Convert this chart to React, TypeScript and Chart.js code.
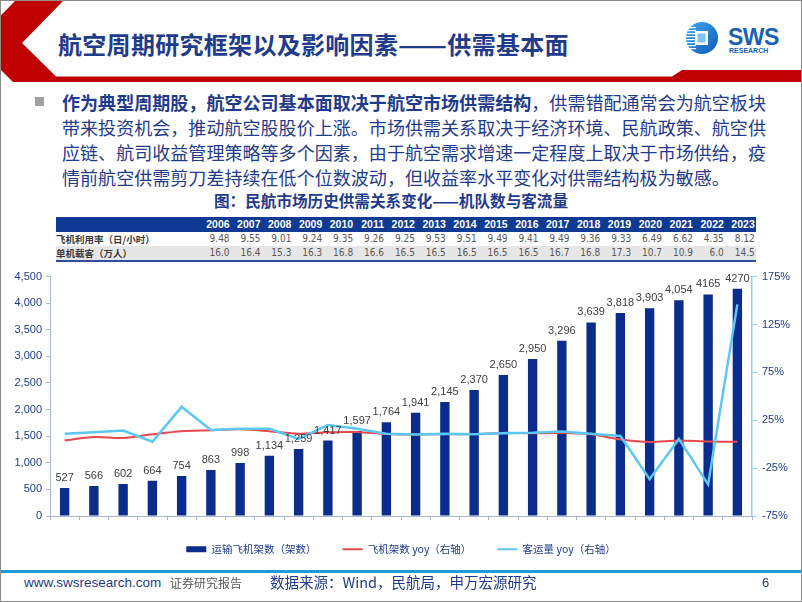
import React, { useEffect, useRef } from 'react';
import { Chart, registerables } from 'chart.js';

Chart.register(...registerables);
Chart.defaults.font.family = "'Liberation Sans', Arial, sans-serif";

// ---------- data ----------
const years = ['2000', '2001', '2002', '2003', '2004', '2005', '2006', '2007', '2008', '2009', '2010', '2011', '2012', '2013', '2014', '2015', '2016', '2017', '2018', '2019', '2020', '2021', '2022', '2023'];
const fleetCount = [527, 566, 602, 664, 754, 863, 998, 1134, 1259, 1417, 1597, 1764, 1941, 2145, 2370, 2650, 2950, 3296, 3639, 3818, 3903, 4054, 4165, 4270];
const fleetCountLabels = ['527', '566', '602', '664', '754', '863', '998', '1,134', '1,259', '1,417', '1,597', '1,764', '1,941', '2,145', '2,370', '2,650', '2,950', '3,296', '3,639', '3,818', '3,903', '4,054', '4165', '4270'];
const fleetYoy = [4.0, 7.4, 6.4, 10.3, 13.6, 14.5, 15.6, 13.6, 11.0, 12.5, 12.7, 10.5, 10.0, 10.5, 10.5, 11.8, 11.3, 11.7, 10.4, 4.9, 2.2, 3.9, 2.7, 2.5];
const paxYoy = [10.8, 12.5, 14.2, 2.5, 39.0, 14.9, 16.0, 16.0, 5.5, 20.0, 16.0, 11.0, 10.0, 10.8, 10.5, 11.5, 12.0, 13.3, 11.0, 8.5, -36.5, 5.5, -42.0, 146.0];
const seriesNames = ['运输飞机架数（架数）', '飞机架数 yoy（右轴）', '客运量 yoy（右轴）'];
const leftAxis = { min: 0, max: 4500, step: 500 };
const rightAxis = { min: -75, max: 175, step: 50 };

const tableYears = ['2006', '2007', '2008', '2009', '2010', '2011', '2012', '2013', '2014', '2015', '2016', '2017', '2018', '2019', '2020', '2021', '2022', '2023'];
const utilization = ['9.48', '9.55', '9.01', '9.24', '9.35', '9.26', '9.25', '9.53', '9.51', '9.49', '9.41', '9.49', '9.36', '9.33', '6.49', '6.62', '4.35', '8.12'];
const paxPerPlane = ['16.0', '16.4', '15.3', '16.3', '16.8', '16.6', '16.5', '16.5', '16.5', '16.5', '16.5', '16.7', '16.8', '17.3', '10.7', '10.9', '6.0', '14.5'];
const tableRowNames = ['飞机利用率（日/小时）', '单机载客（万人）'];

const titleParts = ['航空周期研究框架以及影响因素', '——', '供需基本面'];
const bulletLines = [
  ['作为典型周期股，航空公司基本面取决于航空市场供需结构', '，供需错配通常会为航空板块'],
  ['', '带来投资机会，推动航空股股价上涨。市场供需关系取决于经济环境、民航政策、航空供'],
  ['', '应链、航司收益管理策略等多个因素，由于航空需求增速一定程度上取决于市场供给，疫'],
  ['', '情前航空供需剪刀差持续在低个位数波动，但收益率水平变化对供需结构极为敏感。'],
];
const chartTitle = '图：民航市场历史供需关系变化——机队数与客流量';

// ---------- colours ----------
const NAVY = '#0A2C8C';
const RED = '#E8474D';
const CYAN = '#5BC8F3';
const TEXT_BLUE = '#1F3B8C';
const CJK = "'Noto Sans CJK SC', 'Noto Sans', sans-serif";

const barLabelPlugin = {
  id: 'barLabels',
  afterDatasetsDraw(chart: any) {
    const meta = chart.getDatasetMeta(0);
    const ctx = chart.ctx;
    ctx.save();
    ctx.font = "11px 'Liberation Sans', Arial, sans-serif";
    ctx.fillStyle = '#404040';
    ctx.textAlign = 'center';
    ctx.textBaseline = 'alphabetic';
    meta.data.forEach((bar: any, i: number) => {
      ctx.fillText(fleetCountLabels[i], bar.x, bar.y - 7);
    });
    ctx.restore();
  },
};

const legendHeightPlugin = {
  id: 'legendHeight',
  beforeInit(chart: any) {
    const legend = chart.legend;
    if (!legend) return;
    const origFit = legend.fit;
    legend.fit = function () {
      origFit.call(this);
      this.height = 57;
    };
  },
};

export default function App() {
  const canvasRef = useRef<HTMLCanvasElement>(null);

  useEffect(() => {
    document.body.style.margin = '0';
    const canvas = canvasRef.current;
    if (!canvas) return;
    const chart = new Chart(canvas, {
      type: 'bar',
      data: {
        labels: years,
        datasets: [
          {
            type: 'bar',
            label: seriesNames[0],
            data: fleetCount,
            backgroundColor: NAVY,
            yAxisID: 'y',
            order: 3,
            barPercentage: 0.32,
            categoryPercentage: 1,
          } as any,
          {
            type: 'line',
            label: seriesNames[1],
            data: fleetYoy,
            borderColor: RED,
            backgroundColor: RED,
            borderWidth: 2,
            pointRadius: 0,
            tension: 0.3,
            yAxisID: 'y1',
            order: 2,
          } as any,
          {
            type: 'line',
            label: seriesNames[2],
            data: paxYoy,
            borderColor: CYAN,
            backgroundColor: CYAN,
            borderWidth: 2.5,
            pointRadius: 0,
            tension: 0,
            yAxisID: 'y1',
            order: 1,
          } as any,
        ],
      },
      options: {
        responsive: false,
        animation: false,
        devicePixelRatio: 1,
        layout: { padding: { top: 10, left: 0, right: 0, bottom: 0 } },
        scales: {
          x: {
            offset: true,
            grid: { drawOnChartArea: false, drawTicks: true, tickLength: 4, color: '#A9B7D6', offset: true },
            border: { color: '#A9B7D6', width: 1 },
            ticks: { font: { size: 9 }, color: TEXT_BLUE, padding: 2, maxRotation: 0, autoSkip: false },
            afterFit: (s: any) => { s.height = 2; },
          },
          y: {
            position: 'left',
            min: leftAxis.min,
            max: leftAxis.max,
            ticks: {
              stepSize: leftAxis.step,
              callback: (v: any) => Number(v).toLocaleString('en-US'),
              font: { size: 11 },
              color: TEXT_BLUE,
              padding: 4,
            },
            grid: { drawOnChartArea: false, drawTicks: true, tickLength: 4, color: '#A9B7D6' },
            border: { color: '#A9B7D6', width: 1 },
            afterFit: (s: any) => { s.width = 50; },
          },
          y1: {
            position: 'right',
            min: rightAxis.min,
            max: rightAxis.max,
            ticks: {
              stepSize: rightAxis.step,
              callback: (v: any) => `${v}%`,
              font: { size: 11 },
              color: TEXT_BLUE,
              padding: 5,
            },
            grid: { drawOnChartArea: false, drawTicks: true, tickLength: 5, color: '#8ED3F4' },
            border: { color: '#8ED3F4', width: 1.5 },
            afterFit: (s: any) => { s.width = 50; },
          },
        } as any,
        plugins: {
          legend: {
            position: 'bottom',
            labels: {
              usePointStyle: true,
              pointStyleWidth: 20,
              boxHeight: 6,
              padding: 26,
              font: { size: 10.5, family: CJK },
              color: TEXT_BLUE,
              generateLabels: (c: any) => {
                const items = Chart.defaults.plugins.legend.labels.generateLabels(c);
                items.forEach((it: any) => {
                  const ds: any = c.data.datasets[it.datasetIndex];
                  if (ds.type === 'line') {
                    it.pointStyle = 'line';
                    it.strokeStyle = ds.borderColor;
                    it.lineWidth = 2;
                  } else {
                    it.pointStyle = 'rect';
                    it.fillStyle = ds.backgroundColor;
                    it.lineWidth = 0;
                  }
                });
                return items;
              },
              sort: (a: any, b: any) => a.datasetIndex - b.datasetIndex,
            },
          } as any,
          tooltip: { enabled: false },
        },
      },
      plugins: [legendHeightPlugin, barLabelPlugin],
    });
    return () => chart.destroy();
  }, []);

  const firstCol = 142.7;
  const colW = 30.9;

  const cell = (txt: string, key: number, style: any) => (
    <div key={key} style={{ width: colW, textAlign: 'right', flex: 'none', ...style }}>{txt}</div>
  );

  return (
    <div style={{ position: 'fixed', left: 0, top: 0, width: 802, height: 602, background: '#fff', overflow: 'hidden', fontFamily: CJK }}>
      {/* header decoration */}
      <svg width={802} height={90} style={{ position: 'absolute', left: 0, top: 0 }}>
        <polygon points="15,1 63,1 22,43 56,76.5 672,76.5 682,70 802,70 802,82 13,82 -26,43" fill="#C00000" />
        <defs>
          <linearGradient id="lg" x1="0" y1="0" x2="1" y2="1">
            <stop offset="0" stopColor="#3FA9F5" />
            <stop offset="1" stopColor="#0D5BB5" />
          </linearGradient>
        </defs>
        <circle cx={702} cy={38} r={16} fill="url(#lg)" />
        {[27, 30, 33, 36, 39, 42, 45, 48].map((y) => (
          <rect key={y} x={686} y={y} width={10} height={1.2} fill="#ffffff" />
        ))}
        <rect x={695} y={31} width={13} height={14} fill="#ffffff" />
        <rect x={697.5} y={33.5} width={8} height={9} fill="#7CC4F7" />
      </svg>
      <div style={{ position: 'absolute', left: 728, top: 24, fontFamily: "'Liberation Sans', Arial, sans-serif", fontWeight: 700, fontSize: 23, lineHeight: '26px', color: '#1A5FB4', letterSpacing: -0.5 }}>SWS</div>
      <div style={{ position: 'absolute', left: 729, top: 47, fontFamily: "'Liberation Sans', Arial, sans-serif", fontWeight: 700, fontSize: 7, lineHeight: '8px', color: '#1A5FB4' }}>RESEARCH</div>

      {/* title */}
      <div style={{ position: 'absolute', left: 58, top: 29, fontSize: 24, lineHeight: '30px', fontWeight: 700, color: TEXT_BLUE, letterSpacing: 0.3, whiteSpace: 'nowrap' }}>
        {titleParts[0]}
        <span style={{ display: 'inline-block', transform: 'scaleX(1.2)', transformOrigin: 'left center', marginRight: 8 }}>{titleParts[1]}</span>
        {titleParts[2]}
      </div>

      {/* bullet */}
      <div style={{ position: 'absolute', left: 35, top: 97, width: 9, height: 9, background: '#A0A0A0' }} />
      <div style={{ position: 'absolute', left: 62, top: 89.5, fontSize: 18, lineHeight: '25px', color: TEXT_BLUE, whiteSpace: 'nowrap', letterSpacing: 0.05 }}>
        {bulletLines.map((ln, i) => (
          <div key={i}>
            {ln[0] ? <span style={{ fontWeight: 700 }}>{ln[0]}</span> : null}
            <span>{ln[1]}</span>
          </div>
        ))}
      </div>

      {/* chart title */}
      <div style={{ position: 'absolute', left: 214, top: 190, fontSize: 15.6, lineHeight: '20px', fontWeight: 700, color: TEXT_BLUE, whiteSpace: 'nowrap' }}>{chartTitle}</div>

      {/* table */}
      <div style={{ position: 'absolute', left: 56, top: 217, width: 700 }}>
        <div style={{ display: 'flex', height: 15, background: '#0E3A94', color: '#fff', fontFamily: "'Liberation Sans', Arial, sans-serif", fontWeight: 700, fontSize: 10.5, lineHeight: '15px' }}>
          <div style={{ width: firstCol, flex: 'none' }} />
          {tableYears.map((y, i) => cell(y, i, {}))}
        </div>
        {[utilization, paxPerPlane].map((row, r) => (
          <div key={r} style={{ display: 'flex', height: 14, lineHeight: '14px', background: r === 1 ? '#E7E6E6' : '#fff' }}>
            <div style={{ width: firstCol, flex: 'none', fontFamily: CJK, fontWeight: 700, fontSize: 9.5, color: '#3A3A3A', whiteSpace: 'nowrap' }}>{tableRowNames[r]}</div>
            {row.map((v, i) => cell(v, i, { fontFamily: "'Liberation Sans Narrow', 'DejaVu Sans Condensed', Arial, sans-serif", fontSize: 10, color: '#595959' }))}
          </div>
        ))}
        <div style={{ height: 2, background: '#2F4D9C' }} />
      </div>

      {/* chart */}
      <canvas ref={canvasRef} width={802} height={310} style={{ position: 'absolute', left: 0, top: 265, width: 802, height: 310 }} />

      {/* footer */}
      <div style={{ position: 'absolute', left: 0, top: 570, width: 802, height: 3, background: '#1F9BD7' }} />
      <div style={{ position: 'absolute', left: 24, top: 575, fontFamily: "'Liberation Sans', Arial, sans-serif", fontSize: 13.5, lineHeight: '16px', color: TEXT_BLUE }}>www.swsresearch.com</div>
      <div style={{ position: 'absolute', left: 170, top: 575, fontSize: 12, lineHeight: '16px', color: '#595959' }}>证券研究报告</div>
      <div style={{ position: 'absolute', left: 270, top: 573, fontSize: 14.5, lineHeight: '18px', color: TEXT_BLUE, whiteSpace: 'nowrap' }}>数据来源：Wind，民航局，申万宏源研究</div>
      <div style={{ position: 'absolute', left: 762, top: 575, fontFamily: "'Liberation Sans', Arial, sans-serif", fontSize: 13, lineHeight: '16px', color: TEXT_BLUE }}>6</div>

      {/* slide border */}
      <div style={{ position: 'absolute', left: 0, top: 0, width: 802, height: 602, boxSizing: 'border-box', border: '1px solid #8C8C8C', pointerEvents: 'none' }} />
    </div>
  );
}
